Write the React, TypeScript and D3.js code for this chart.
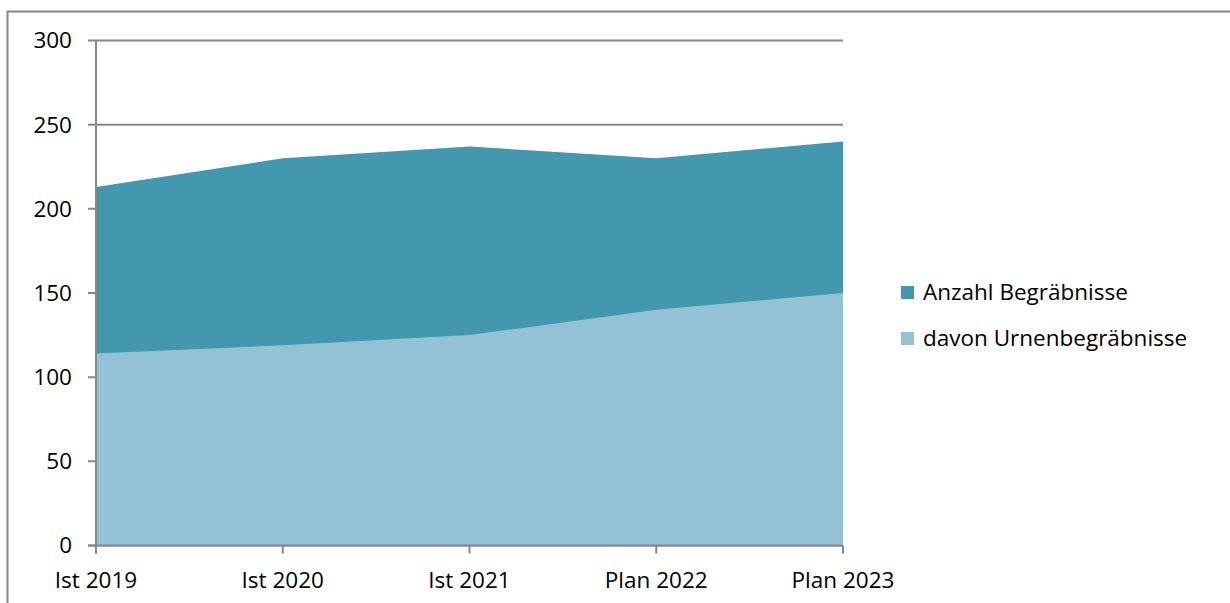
import React from "react";
import * as d3 from "d3";

const categories = ["Ist 2019", "Ist 2020", "Ist 2021", "Plan 2022", "Plan 2023"];
const totalBurials = [213, 230, 237, 230, 240];
const urnBurials = [114, 119, 125, 140, 150];
const yTicks = [0, 50, 100, 150, 200, 250, 300];
const seriesNames = ["Anzahl Begräbnisse", "davon Urnenbegräbnisse"];
const colors = ["#4397AF", "#93C2D4"];

const W = 1230;
const H = 603;
const left = 96;
const right = 843;
const top = 40.5;
const bottom = 545.5;
const font = "'Open Sans', sans-serif";
const fs = 22.5;
const axisColor = "#878787";

export default function App() {
  const x = d3.scalePoint<string>().domain(categories).range([left, right]);
  const y = d3.scaleLinear().domain([0, 300]).range([bottom, top]);

  const area = d3
    .area<number>()
    .x((_, i) => x(categories[i]) as number)
    .y0(y(0))
    .y1((d) => y(d));

  return (
    <svg
      width={W}
      height={H}
      style={{ position: "fixed", left: 0, top: 0, background: "#fff" }}
    >
      <rect x={7.5} y={11.5} width={1240} height={620} fill="#fff" stroke={axisColor} strokeWidth={2} />
      {yTicks.map((t) => (
        <line key={t} x1={88} x2={right} y1={y(t)} y2={y(t)} stroke={axisColor} strokeWidth={2} />
      ))}
      <path d={area(totalBurials) || ""} fill={colors[0]} />
      <path d={area(urnBurials) || ""} fill={colors[1]} />
      <line x1={left} x2={left} y1={top} y2={bottom + 8} stroke={axisColor} strokeWidth={2} />
      <line x1={88} x2={right} y1={bottom} y2={bottom} stroke={axisColor} strokeWidth={2} />
      {categories.map((c) => (
        <line key={c} x1={x(c)} x2={x(c)} y1={bottom} y2={bottom + 8} stroke={axisColor} strokeWidth={2} />
      ))}
      {yTicks.map((t) => (
        <text key={t} x={72} y={y(t)} dy="0.35em" textAnchor="end" fontFamily={font} fontSize={fs} fill="#000">
          {t}
        </text>
      ))}
      {categories.map((c) => (
        <text key={c} x={x(c)} y={588} textAnchor="middle" fontFamily={font} fontSize={fs} fill="#000">
          {c}
        </text>
      ))}
      {seriesNames.map((s, i) => (
        <g key={s} transform={`translate(901, ${286 + i * 46})`}>
          <rect x={0} y={0} width={13} height={13} fill={colors[i]} />
          <text x={22} y={6.5} dy="0.35em" fontFamily={font} fontSize={fs} fill="#000">
            {s}
          </text>
        </g>
      ))}
    </svg>
  );
}
